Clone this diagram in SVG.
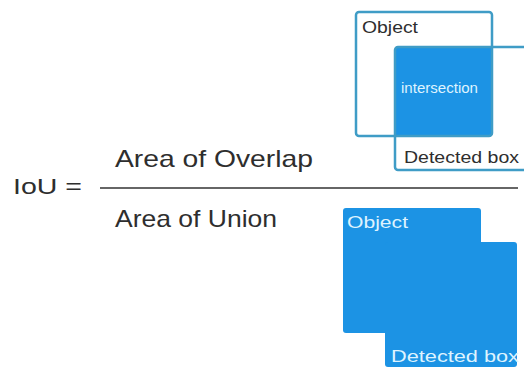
<svg xmlns="http://www.w3.org/2000/svg" width="524" height="369" viewBox="0 0 524 369">
<style>
text{font-family:"Liberation Sans",Arial,sans-serif;}
.dark{fill:#2e2e2e;}
.light{fill:#dff3ff;}
.outline{fill:none;stroke:#3f9cc6;stroke-width:2.5;}
.blue{fill:#1c93e4;}
</style>
<rect width="524" height="369" fill="#ffffff"/>
<g id="formula">
<text class="dark" x="13" y="194" font-size="22" textLength="69" lengthAdjust="spacingAndGlyphs">IoU =</text>
<text class="dark" x="115" y="167" font-size="24" textLength="198" lengthAdjust="spacingAndGlyphs">Area of Overlap</text>
<line x1="100" y1="188" x2="518" y2="188" stroke="#333" stroke-width="1.6"/>
<text class="dark" x="115" y="227" font-size="24" textLength="162" lengthAdjust="spacingAndGlyphs">Area of Union</text>
</g>
<g id="overlap">
<rect class="blue" x="395" y="47" width="97" height="89" rx="2"/>
<rect class="outline" x="356" y="12" width="136" height="124" rx="3"/>
<path class="outline" d="M526,47 H398 a3,3 0 0 0 -3,3 V167 a3,3 0 0 0 3,3 H526"/>
<text class="dark" x="362" y="33" font-size="17" textLength="56" lengthAdjust="spacingAndGlyphs">Object</text>
<text class="light" x="401" y="93" font-size="14.5" textLength="77" lengthAdjust="spacingAndGlyphs">intersection</text>
<text class="dark" x="404" y="163" font-size="17" textLength="115" lengthAdjust="spacingAndGlyphs">Detected box</text>
</g>
<g id="union">
<rect class="blue" x="343" y="208" width="138" height="125" rx="3"/>
<rect class="blue" x="385" y="242" width="132" height="125" rx="3"/>
<text class="light" x="347" y="228" font-size="16" textLength="61" lengthAdjust="spacingAndGlyphs">Object</text>
<text class="light" x="391" y="362" font-size="17" textLength="128" lengthAdjust="spacingAndGlyphs">Detected box</text>
</g>
</svg>
